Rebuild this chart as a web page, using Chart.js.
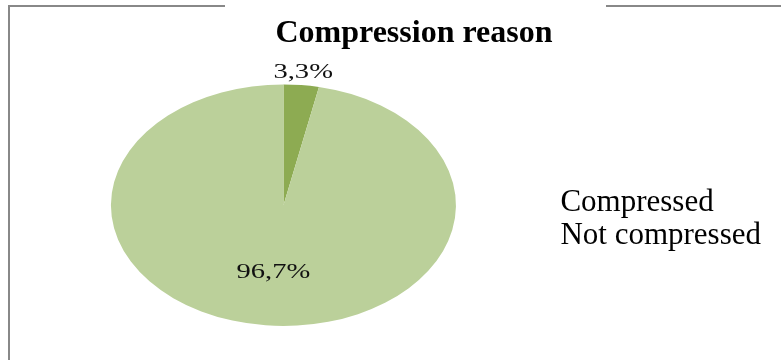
<!DOCTYPE html>
<html>
<head>
<meta charset="utf-8">
<script src="https://cdn.jsdelivr.net/npm/chart.js@4/dist/chart.umd.min.js"></script>
<style>
  html, body { margin: 0; padding: 0; background: #fff; }
  #page { position: relative; width: 781px; height: 360px; overflow: hidden; }
  #frame {
    position: absolute; left: 8px; top: 5px; width: 800px; height: 400px;
    border-left: 2px solid #888; border-top: 2px solid #888;
  }
  #gap { position: absolute; left: 225px; top: 0; width: 381px; height: 10px; background: #fff; }
  #chart { position: absolute; left: 0; top: 0; }
</style>
</head>
<body>
<div id="page">
  <div id="frame"></div>
  <div id="gap"></div>
  <canvas id="chart" width="781" height="360"></canvas>
</div>
<script>
const categories = ['Compressed', 'Not compressed'];
const shares = [3.3, 96.7];

const sliceColors = ['#8dab52', '#bbd09a'];
const pieStretch = 1.428; // the pie is drawn as a wide ellipse

// format like the source: decimal comma
const fmtShare = v => v.toFixed(1).replace('.', ',') + '%';

// stretch the pie horizontally and put the share labels on it
const ellipsePie = {
  id: 'ellipsePie',
  beforeDatasetsDraw(chart) {
    const arc = chart.getDatasetMeta(0).data[0];
    const ctx = chart.ctx;
    ctx.save();
    ctx.translate(arc.x, arc.y);
    ctx.scale(pieStretch, 1);
    ctx.translate(-arc.x, -arc.y);
  },
  afterDatasetsDraw(chart) {
    const ctx = chart.ctx;
    const total = shares.reduce((a, b) => a + b, 0);
    chart.getDatasetMeta(0).data.forEach((arc, i) => {
      const mid = (arc.startAngle + arc.endAngle) / 2;
      // small slices get their label outside, big ones inside
      const dist = shares[i] / total < 0.1 ? arc.outerRadius * 1.105 : arc.outerRadius * 0.565;
      ctx.font = '20px "Liberation Serif"';
      ctx.fillStyle = '#111';
      ctx.textAlign = 'center';
      ctx.textBaseline = 'middle';
      ctx.fillText(fmtShare(shares[i]), arc.x + Math.cos(mid) * dist, arc.y + Math.sin(mid) * dist);
    });
    ctx.restore();
  }
};

const hiddenBoxes = chart =>
  Chart.overrides.pie.plugins.legend.labels.generateLabels(chart).map(item => ({
    ...item, fillStyle: 'rgba(0,0,0,0)', strokeStyle: 'rgba(0,0,0,0)', lineWidth: 0
  }));

new Chart(document.getElementById('chart'), {
  type: 'pie',
  data: {
    labels: categories,
    datasets: [{
      data: shares,
      backgroundColor: sliceColors,
      borderWidth: 0
    }]
  },
  options: {
    responsive: false,
    animation: false,
    events: [],
    layout: { padding: { left: 57, right: 10, top: 0, bottom: 34 } },
    plugins: {
      title: {
        display: true,
        text: 'Compression reason',
        color: '#000',
        font: { family: 'Liberation Serif', size: 32, weight: 'bold' },
        padding: { top: 15, bottom: 31 }
      },
      legend: {
        position: 'right',
        fullSize: false,
        title: { display: true, text: '', font: { size: 23 }, padding: 0 },
        labels: {
          color: '#000',
          font: { family: 'Liberation Serif', size: 31 },
          boxWidth: 33,
          padding: 2,
          generateLabels: hiddenBoxes
        }
      },
      tooltip: { enabled: false }
    }
  },
  plugins: [ellipsePie]
});
</script>
</body>
</html>
